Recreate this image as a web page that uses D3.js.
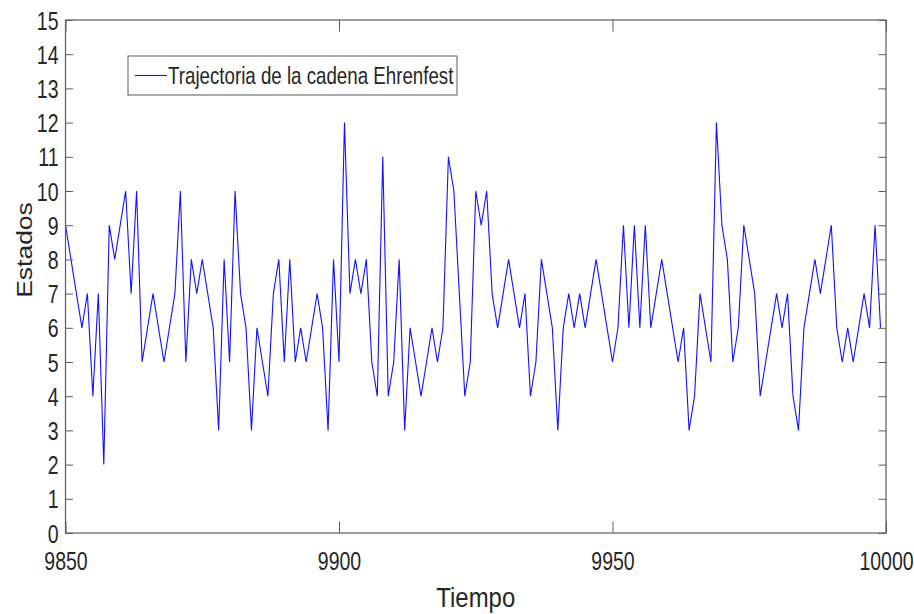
<!DOCTYPE html>
<html>
<head>
<meta charset="utf-8">
<script src="https://cdn.jsdelivr.net/npm/d3@7"></script>
<style>
  body { margin: 0; background: #fff; }
  svg { display: block; }
  text { font-family: "Liberation Sans", Arial, Helvetica, sans-serif; fill: #262626; }
</style>
</head>
<body>
<svg id="chart" width="914" height="614"></svg>
<script>
// Trayectoria de la cadena de Ehrenfest, pasos 9850 a 9999
const tiempoInicio = 9850;
const estados = [
  9, 8, 7, 6, 7, 4, 7, 2, 9, 8, 9, 10, 7, 10, 5, 6,
  7, 6, 5, 6, 7, 10, 5, 8, 7, 8, 7, 6, 3, 8, 5, 10, 7, 6,
  3, 6, 5, 4, 7, 8, 5, 8, 5, 6, 5, 6, 7, 6, 3, 8, 5, 12, 7,
  8, 7, 8, 5, 4, 11, 4, 5, 8, 3, 6, 5, 4, 5, 6, 5, 6, 11,
  10, 7, 4, 5, 10, 9, 10, 7, 6, 7, 8, 7, 6, 7, 4, 5, 8, 7,
  6, 3, 6, 7, 6, 7, 6, 7, 8, 7, 6, 5, 6, 9, 6, 9, 6, 9, 6,
  7, 8, 7, 6, 5, 6, 3, 4, 7, 6, 5, 12, 9, 8, 5, 6, 9, 8,
  7, 4, 5, 6, 7, 6, 7, 4, 3, 6, 7, 8, 7, 8, 9, 6, 5, 6, 5, 6, 7, 6, 9, 6
];
const xTicks = [9850, 9900, 9950, 10000];
const yTicks = [0, 1, 2, 3, 4, 5, 6, 7, 8, 9, 10, 11, 12, 13, 14, 15];
const nombreSerie = "Trajectoria de la cadena Ehrenfest";
const etiquetaX = "Tiempo";
const etiquetaY = "Estados";

const puntos = estados.map((e, i) => ({ t: tiempoInicio + i, e }));

const svg = d3.select("#chart");
const plotLeft = 65.5, plotRight = 886, plotTop = 20, plotBottom = 533;
const stretch = 0.78;          // narrow glyphs, as in the exported figure
const axisColor = "#5c5c5c";

const x = d3.scaleLinear().domain([9850, 10000]).range([plotLeft, plotRight]);
const y = d3.scaleLinear().domain([0, 15]).range([plotBottom, plotTop]);

// series
svg.append("path")
  .datum(puntos)
  .attr("fill", "none")
  .attr("stroke", "#1212ff")
  .attr("stroke-width", 1.1)
  .attr("d", d3.line().x(d => x(d.t)).y(d => y(d.e)));

// axes (ticks pointing inward on all four sides)
function styleAxis(g) {
  g.attr("font-family", null).attr("font-size", null);
  g.select(".domain").remove();
  g.selectAll(".tick line").attr("stroke", axisColor).attr("stroke-width", 1);
}

const gBottom = svg.append("g").attr("transform", `translate(0,${plotBottom})`)
  .call(d3.axisBottom(x).tickValues(xTicks).tickSizeInner(-11.5).tickSizeOuter(0).tickFormat(d3.format("d")))
  .call(styleAxis);
gBottom.selectAll(".tick text")
  .attr("x", null).attr("y", null).attr("dy", null)
  .attr("text-anchor", "middle")
  .attr("font-size", 25)
  .attr("fill", "#262626")
  .attr("transform", `translate(0,37) scale(${stretch},1)`);

svg.append("g").attr("transform", `translate(0,${plotTop})`)
  .call(d3.axisTop(x).tickValues(xTicks).tickSizeInner(-11.5).tickSizeOuter(0).tickFormat(""))
  .call(styleAxis);

const gLeft = svg.append("g").attr("transform", `translate(${plotLeft},0)`)
  .call(d3.axisLeft(y).tickValues(yTicks).tickSizeInner(-7.5).tickSizeOuter(0).tickFormat(d3.format("d")))
  .call(styleAxis);
gLeft.selectAll(".tick text")
  .attr("x", null).attr("y", null).attr("dy", null)
  .attr("text-anchor", "end")
  .attr("font-size", 25)
  .attr("fill", "#262626")
  .attr("transform", `translate(-7,9) scale(${stretch},1)`);

svg.append("g").attr("transform", `translate(${plotRight},0)`)
  .call(d3.axisRight(y).tickValues(yTicks).tickSizeInner(-7.5).tickSizeOuter(0).tickFormat(""))
  .call(styleAxis);

// frame
svg.append("rect")
  .attr("x", plotLeft).attr("y", plotTop)
  .attr("width", plotRight - plotLeft).attr("height", plotBottom - plotTop)
  .attr("fill", "none").attr("stroke", axisColor).attr("stroke-width", 1.2);

// axis titles
svg.append("text")
  .attr("text-anchor", "middle")
  .attr("font-size", 28.5)
  .attr("transform", `translate(${(plotLeft + plotRight) / 2},607) scale(0.84,1)`)
  .text(etiquetaX);

svg.append("text")
  .attr("text-anchor", "middle")
  .attr("font-size", 26.5)
  .attr("transform", `translate(32,250) rotate(-90) scale(1,0.85)`)
  .text(etiquetaY);

// legend
const leg = svg.append("g");
leg.append("rect")
  .attr("x", 128).attr("y", 56).attr("width", 329).attr("height", 39)
  .attr("fill", "#fff").attr("stroke", axisColor).attr("stroke-width", 1);
leg.append("line")
  .attr("x1", 135).attr("x2", 167).attr("y1", 75.5).attr("y2", 75.5)
  .attr("stroke", "#1212ff").attr("stroke-width", 1.1);
leg.append("text")
  .attr("text-anchor", "start")
  .attr("font-size", 24)
  .attr("transform", `translate(168,84) scale(${stretch},1)`)
  .text(nombreSerie);
</script>
</body>
</html>
